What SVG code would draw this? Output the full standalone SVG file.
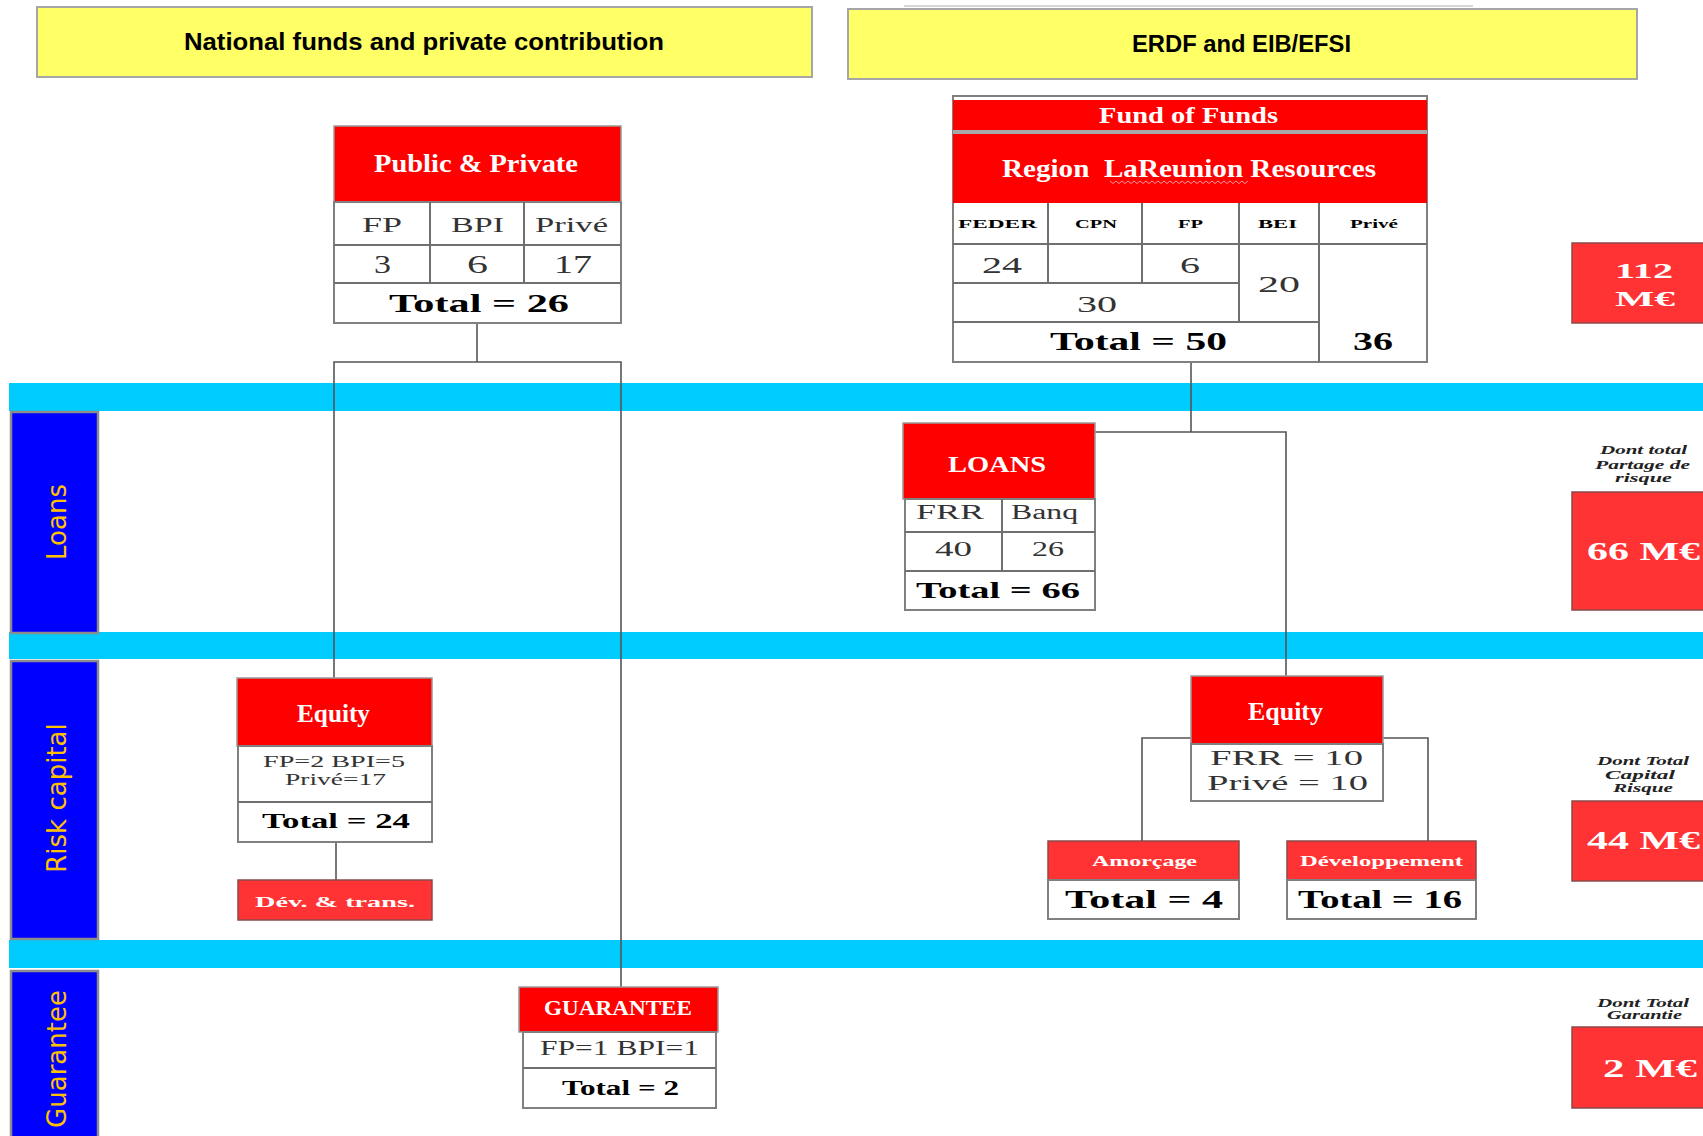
<svg xmlns="http://www.w3.org/2000/svg" width="1703" height="1136" viewBox="0 0 1703 1136">
<style>
.ybox{fill:#ffff66;stroke:#a6a6a6;stroke-width:2}
.ytxt{font-family:"Liberation Sans",Arial,sans-serif;font-size:24px;font-weight:bold;fill:#000;text-anchor:middle}
.band{fill:#00ccff}
.lab{fill:#0000ff;stroke:#8c8c8c;stroke-width:2.5}
.labt{font-family:"DejaVu Sans",Verdana,sans-serif;font-size:26px;fill:#ffc000;text-anchor:middle}
.hd{fill:#ff0000;stroke:#9a9a9a;stroke-width:1.5}
.hd2{fill:#ff3333;stroke:#8a4a4a;stroke-width:1.5}
.cell{fill:#fff;stroke:#808080;stroke-width:2}
.grid{stroke:#707070;stroke-width:2;fill:none}
.wt{font-family:"Liberation Serif","Times New Roman",serif;font-weight:bold;fill:#fff;text-anchor:middle}
.tx{font-family:"Liberation Serif","Times New Roman",serif;fill:#333;text-anchor:middle}
.tb{font-family:"Liberation Serif","Times New Roman",serif;font-weight:bold;fill:#000;text-anchor:middle}
.it{font-family:"Liberation Serif","Times New Roman",serif;font-weight:bold;font-style:italic;font-size:13px;fill:#222;text-anchor:middle}
.con{stroke:#555;stroke-width:1.6;fill:none}
</style>

<!-- headers -->
<g id="hdr-national">
<rect class="ybox" x="37" y="7" width="775" height="70"/>
<text class="ytxt" x="424" y="50" textLength="480" lengthAdjust="spacingAndGlyphs">National funds and private contribution</text>
</g>
<g id="hdr-erdf">
<line x1="904" y1="6" x2="1473" y2="6" stroke="#c8c8c8" stroke-width="1.5"/>
<rect class="ybox" x="848" y="9" width="789" height="70"/>
<text class="ytxt" x="1241.5" y="52" textLength="219" lengthAdjust="spacingAndGlyphs">ERDF and EIB/EFSI</text>
</g>

<!-- bands -->
<g id="bands">
<rect class="band" x="9" y="383" width="1694" height="28"/>
<rect class="band" x="9" y="632" width="1694" height="27"/>
<rect class="band" x="9" y="940" width="1694" height="28"/>
</g>

<!-- row labels -->
<g id="lab-loans">
<rect class="lab" x="11" y="412" width="87" height="221"/>
<text class="labt" transform="translate(66,522) rotate(-90)">Loans</text>
</g>
<g id="lab-risk">
<rect class="lab" x="11" y="661" width="87" height="278"/>
<text class="labt" transform="translate(66,798) rotate(-90)">Risk capital</text>
</g>
<g id="lab-guarantee">
<rect class="lab" x="11" y="971" width="87" height="170"/>
<text class="labt" transform="translate(66,1059) rotate(-90)">Guarantee</text>
</g>

<!-- connectors -->
<g id="connectors">
<polyline class="con" points="477,323 477,362"/>
<polyline class="con" points="334,678 334,362 621,362 621,987"/>
<polyline class="con" points="1191,362 1191,432"/>
<polyline class="con" points="1095,432 1286,432 1286,676"/>
<polyline class="con" points="1142,841 1142,738 1428,738 1428,841"/>
<polyline class="con" points="336,842 336,880"/>
</g>

<!-- Public & Private -->
<g id="public-private">
<rect class="hd" x="334" y="126" width="287" height="76"/>
<rect class="cell" x="334" y="202" width="287" height="121"/>
<path class="grid" d="M334 245H621M334 283H621M430 202V283M524 202V283"/>
<text class="wt" x="476" y="172" font-size="25" textLength="204" lengthAdjust="spacingAndGlyphs">Public &amp; Private</text>
<text class="tx" x="382" y="232" font-size="21" textLength="40" lengthAdjust="spacingAndGlyphs">FP</text>
<text class="tx" x="477.5" y="232" font-size="21" textLength="53" lengthAdjust="spacingAndGlyphs">BPI</text>
<text class="tx" x="571.5" y="232" font-size="21" textLength="73" lengthAdjust="spacingAndGlyphs">Privé</text>
<text class="tx" x="382.5" y="273" font-size="26" textLength="17" lengthAdjust="spacingAndGlyphs">3</text>
<text class="tx" x="477.5" y="273" font-size="26" textLength="21" lengthAdjust="spacingAndGlyphs">6</text>
<text class="tx" x="573" y="273" font-size="26" textLength="38" lengthAdjust="spacingAndGlyphs">17</text>
<text class="tb" x="479" y="312" font-size="25" textLength="180" lengthAdjust="spacingAndGlyphs">Total = 26</text>
</g>

<!-- Fund of Funds -->
<g id="fund-of-funds">
<rect class="cell" x="953" y="96" width="474" height="266"/>
<rect x="953" y="100" width="474" height="30" fill="#ff0000"/>
<rect x="953" y="130" width="474" height="4" fill="#a8a8a8"/>
<rect x="953" y="134" width="474" height="69" fill="#ff0000"/>
<path class="grid" d="M953 244H1427M953 283H1239M953 322H1319M1048 203V283M1142 203V283M1239 203V322M1319 203V362"/>
<text class="wt" x="1188.5" y="123" font-size="24" textLength="179" lengthAdjust="spacingAndGlyphs">Fund of Funds</text>
<text class="wt" x="1189" y="177" font-size="25" textLength="374" lengthAdjust="spacingAndGlyphs">Region&#160; LaReunion Resources</text>
<path d="M1110 181l3 2.5 3-2.5 3 2.5 3-2.5 3 2.5 3-2.5 3 2.5 3-2.5 3 2.5 3-2.5 3 2.5 3-2.5 3 2.5 3-2.5 3 2.5 3-2.5 3 2.5 3-2.5 3 2.5 3-2.5 3 2.5 3-2.5 3 2.5 3-2.5 3 2.5 3-2.5 3 2.5 3-2.5 3 2.5 3-2.5 3 2.5 3-2.5 3 2.5 3-2.5 3 2.5 3-2.5 3 2.5 3-2.5 3 2.5 3-2.5 3 2.5 3-2.5 3 2.5 3-2.5 3 2.5 3-2.5" fill="none" stroke="#ff9a9a" stroke-width="1"/>
<text class="tb" x="997.5" y="228" font-size="12" textLength="79" lengthAdjust="spacingAndGlyphs">FEDER</text>
<text class="tb" x="1096" y="228" font-size="12" textLength="42" lengthAdjust="spacingAndGlyphs">CPN</text>
<text class="tb" x="1190.5" y="228" font-size="12" textLength="25" lengthAdjust="spacingAndGlyphs">FP</text>
<text class="tb" x="1277.5" y="228" font-size="12" textLength="39" lengthAdjust="spacingAndGlyphs">BEI</text>
<text class="tb" x="1374" y="228" font-size="12" textLength="48" lengthAdjust="spacingAndGlyphs">Privé</text>
<text class="tx" x="1002" y="273" font-size="24" textLength="40" lengthAdjust="spacingAndGlyphs">24</text>
<text class="tx" x="1190" y="273" font-size="24" textLength="20" lengthAdjust="spacingAndGlyphs">6</text>
<text class="tx" x="1279" y="292" font-size="24" textLength="42" lengthAdjust="spacingAndGlyphs">20</text>
<text class="tx" x="1097" y="312" font-size="24" textLength="40" lengthAdjust="spacingAndGlyphs">30</text>
<text class="tb" x="1138.5" y="350" font-size="25" textLength="177" lengthAdjust="spacingAndGlyphs">Total = 50</text>
<text class="tb" x="1373" y="350" font-size="25" textLength="40" lengthAdjust="spacingAndGlyphs">36</text>
</g>

<!-- LOANS -->
<g id="loans">
<rect class="hd" x="903" y="423" width="192" height="76"/>
<rect class="cell" x="905" y="499" width="190" height="111"/>
<path class="grid" d="M905 532H1095M905 571H1095M1002 499V571"/>
<text class="wt" x="997" y="472" font-size="24" textLength="98" lengthAdjust="spacingAndGlyphs">LOANS</text>
<text class="tx" x="950" y="519" font-size="22" textLength="68" lengthAdjust="spacingAndGlyphs">FRR</text>
<text class="tx" x="1044.5" y="519" font-size="20" textLength="67" lengthAdjust="spacingAndGlyphs">Banq</text>
<text class="tx" x="953.5" y="556" font-size="21" textLength="37" lengthAdjust="spacingAndGlyphs">40</text>
<text class="tx" x="1048" y="556" font-size="20" textLength="32" lengthAdjust="spacingAndGlyphs">26</text>
<text class="tb" x="998" y="598" font-size="24" textLength="164" lengthAdjust="spacingAndGlyphs">Total = 66</text>
</g>

<!-- Equity (national) -->
<g id="equity-national">
<rect class="hd" x="237" y="678" width="195" height="68"/>
<rect class="cell" x="238" y="746" width="194" height="96"/>
<path class="grid" d="M238 802H432"/>
<text class="wt" x="333.5" y="722" font-size="25" textLength="73" lengthAdjust="spacingAndGlyphs">Equity</text>
<text class="tx" x="334" y="767" font-size="17" fill="#445" textLength="142" lengthAdjust="spacingAndGlyphs">FP=2 BPI=5</text>
<text class="tx" x="335.5" y="785" font-size="17" fill="#445" textLength="101" lengthAdjust="spacingAndGlyphs">Privé=17</text>
<text class="tb" x="336" y="828" font-size="21" textLength="148" lengthAdjust="spacingAndGlyphs">Total = 24</text>
</g>

<g id="dev-trans">
<rect class="hd2" x="238" y="880" width="194" height="40"/>
<text class="wt" x="335" y="907" font-size="15" textLength="160" lengthAdjust="spacingAndGlyphs">Dév. &amp; trans.</text>
</g>

<!-- GUARANTEE -->
<g id="guarantee">
<rect class="hd" x="519" y="987" width="199" height="45"/>
<rect class="cell" x="523" y="1032" width="193" height="76"/>
<path class="grid" d="M523 1068H716"/>
<text class="wt" x="618" y="1015" font-size="21" textLength="148" lengthAdjust="spacingAndGlyphs">GUARANTEE</text>
<text class="tx" x="619.5" y="1055" font-size="20" fill="#444" textLength="159" lengthAdjust="spacingAndGlyphs">FP=1 BPI=1</text>
<text class="tb" x="620.5" y="1095" font-size="20" textLength="117" lengthAdjust="spacingAndGlyphs">Total = 2</text>
</g>

<!-- Equity (ERDF) -->
<g id="equity-erdf">
<rect class="hd" x="1191" y="676" width="192" height="68"/>
<rect class="cell" x="1191" y="744" width="192" height="57"/>
<text class="wt" x="1285.5" y="720" font-size="25" textLength="75" lengthAdjust="spacingAndGlyphs">Equity</text>
<text class="tx" x="1286.5" y="765" font-size="22" textLength="153" lengthAdjust="spacingAndGlyphs">FRR = 10</text>
<text class="tx" x="1287.5" y="790" font-size="22" textLength="161" lengthAdjust="spacingAndGlyphs">Privé = 10</text>
</g>

<g id="amorcage">
<rect class="hd2" x="1048" y="841" width="191" height="39"/>
<rect class="cell" x="1048" y="880" width="191" height="39"/>
<text class="wt" x="1144.5" y="866" font-size="14" textLength="105" lengthAdjust="spacingAndGlyphs">Amorçage</text>
<text class="tb" x="1144" y="908" font-size="25" textLength="158" lengthAdjust="spacingAndGlyphs">Total = 4</text>
</g>

<g id="developpement">
<rect class="hd2" x="1287" y="841" width="189" height="39"/>
<rect class="cell" x="1287" y="880" width="189" height="39"/>
<text class="wt" x="1381.5" y="866" font-size="14" textLength="163" lengthAdjust="spacingAndGlyphs">Développement</text>
<text class="tb" x="1380" y="908" font-size="25" textLength="164" lengthAdjust="spacingAndGlyphs">Total = 16</text>
</g>

<!-- totals column -->
<g id="total-112">
<rect class="hd2" x="1572" y="243" width="140" height="80"/>
<text class="wt" x="1644" y="278" font-size="22" textLength="58" lengthAdjust="spacingAndGlyphs">112</text>
<text class="wt" x="1645" y="306" font-size="22" textLength="60" lengthAdjust="spacingAndGlyphs">M€</text>
</g>

<g id="total-66">
<text class="it" x="1643.5" y="454" textLength="87" lengthAdjust="spacingAndGlyphs">Dont total</text>
<text class="it" x="1642.5" y="469" textLength="95" lengthAdjust="spacingAndGlyphs">Partage de</text>
<text class="it" x="1643.5" y="482" textLength="57" lengthAdjust="spacingAndGlyphs">risque</text>
<rect class="hd2" x="1572" y="492" width="140" height="118"/>
<text class="wt" x="1587" y="560" font-size="26" style="text-anchor:start" textLength="113" lengthAdjust="spacingAndGlyphs">66 M€</text>
</g>

<g id="total-44">
<text class="it" x="1643" y="765" textLength="92" lengthAdjust="spacingAndGlyphs">Dont Total</text>
<text class="it" x="1640" y="779" textLength="70" lengthAdjust="spacingAndGlyphs">Capital</text>
<text class="it" x="1643" y="792" textLength="60" lengthAdjust="spacingAndGlyphs">Risque</text>
<rect class="hd2" x="1572" y="801" width="140" height="80"/>
<text class="wt" x="1587" y="849" font-size="26" style="text-anchor:start" textLength="113" lengthAdjust="spacingAndGlyphs">44 M€</text>
</g>

<g id="total-2">
<text class="it" x="1643" y="1007" textLength="92" lengthAdjust="spacingAndGlyphs">Dont Total</text>
<text class="it" x="1644.5" y="1019" textLength="75" lengthAdjust="spacingAndGlyphs">Garantie</text>
<rect class="hd2" x="1572" y="1027" width="140" height="81"/>
<text class="wt" x="1603" y="1077" font-size="26" style="text-anchor:start" textLength="94" lengthAdjust="spacingAndGlyphs">2 M€</text>
</g>
</svg>
